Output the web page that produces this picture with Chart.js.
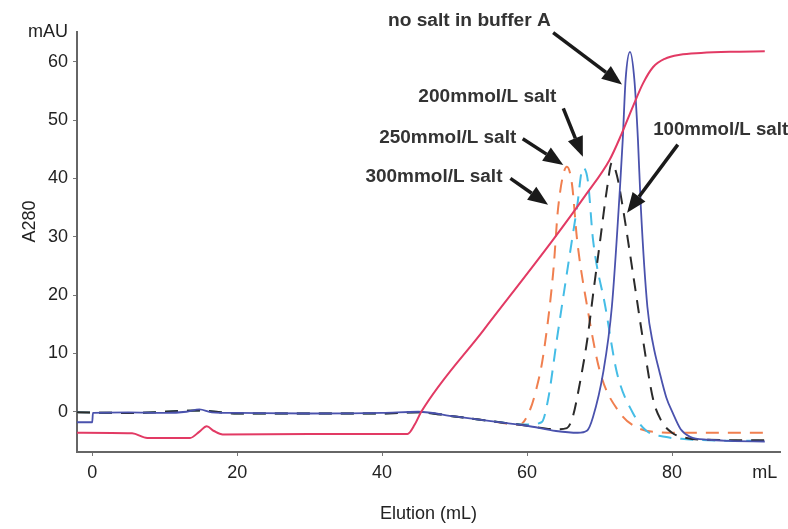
<!DOCTYPE html>
<html>
<head>
<meta charset="utf-8">
<script src="https://cdn.jsdelivr.net/npm/chart.js@4/dist/chart.umd.min.js"></script>
<style>
  html, body { margin: 0; padding: 0; background: #fff; }
  #wrap { width: 788px; height: 529px; position: relative; }
</style>
</head>
<body>
<div id="wrap"><canvas id="elutionChart"></canvas></div>
<script>
// salt gradient trace (red)
const gradientX = [-2.1, 5.5, 7.6, 13.5, 14.8, 15.8, 16.8, 18, 30, 43.5, 44.5, 45.4, 54, 63.6, 68, 71.4, 73, 74.6, 76, 77.4, 79, 81.1, 84, 88, 92.8];
const gradientY = [-3.6, -3.7, -4.5, -4.5, -3.4, -2.5, -3.3, -3.9, -3.8, -3.8, -2.2, 0, 14, 29.5, 37, 43.2, 47.5, 52.3, 56.3, 59.1, 60.5, 61.2, 61.5, 61.7, 61.8];

// no salt in buffer A (solid blue)
const noSaltX = [-2.1, 0, 0.1, 5, 10, 13, 14.8, 16.5, 20, 30, 40, 45, 50, 55, 60, 64, 67, 68.3, 69.1, 70.5, 71.7, 72.8, 73.2, 73.6, 74.2, 74.8, 75.3, 75.7, 76.6, 77.4, 78.3, 79.2, 80.1, 81.2, 82.5, 85, 88, 92.8];
const noSaltY = [-1.8, -1.8, -0.2, -0.1, -0.2, 0, 0.4, -0.1, -0.2, -0.3, -0.2, 0, -0.8, -1.6, -2.4, -3.3, -3.6, -3.2, -0.9, 6.7, 18, 38, 46.6, 57, 61.7, 57, 46.6, 35, 18, 11.5, 6.7, 2.5, -0.2, -3, -4.3, -4.8, -5, -5.1];

// 100 mmol/L salt (black dashed)
const salt100X = [-2.1, 5, 14.8, 20, 40, 45, 50, 55, 60, 64, 65.5, 66.3, 67.3, 68.3, 69.2, 70.1, 71, 71.7, 72.4, 73.2, 74.6, 76, 77.4, 78.5, 80, 82, 85, 92.8];
const salt100Y = [-0.1, -0.2, 0.2, -0.3, -0.3, -0.1, -0.8, -1.6, -2.4, -3, -2.8, -0.9, 5, 12.3, 21, 29.5, 38, 42.7, 40.5, 35.1, 23.8, 12.3, 2.1, -1.5, -3.6, -4.5, -4.8, -4.9];

// 200 mmol/L salt (cyan dashed)
const salt200X = [-2.1, 5, 14.8, 20, 40, 45, 50, 55, 60, 62, 62.9, 64.1, 65.5, 66.9, 67.7, 68.4, 69.1, 70.8, 72.4, 74.6, 76.5, 79, 82, 85, 92.8];
const salt200Y = [-0.1, -0.2, 0.2, -0.3, -0.3, -0.1, -0.8, -1.6, -2.2, -1.8, 2.1, 12.3, 23.8, 35.1, 41.8, 39.5, 29.5, 18, 6.7, -0.2, -3.3, -4.3, -4.7, -4.9, -5];

// 250 / 300 mmol/L salt (orange dashed)
const salt250X = [-2.1, 5, 14.8, 20, 40, 45, 50, 55, 59, 60.4, 61.3, 62.2, 63.6, 64.3, 65.5, 66.2, 66.9, 68.3, 70.1, 72.8, 75, 78, 82, 92.8];
const salt250Y = [-0.1, -0.2, 0.2, -0.3, -0.3, -0.1, -0.8, -1.6, -2.2, 0.3, 4, 9.4, 23.8, 35.1, 42, 39, 29.5, 18, 6.7, -0.2, -2.6, -3.5, -3.6, -3.6];

// axis ticks
const xTickValues = [0, 20, 40, 60, 80, 92.8];
const xTickLabels = ["0", "20", "40", "60", "80", "mL"];
const yTickValues = [0, 10, 20, 30, 40, 50, 60, 65.1];
const yTickLabels = ["0", "10", "20", "30", "40", "50", "60", "mAU"];

// callouts, placed in data units
const callouts = [
    { text: "no salt in buffer A", tx: 40.8, ty: 67, from: [63.6, 65], to: [73.1, 56.1], w: 163 },
    { text: "200mmol/L salt", tx: 45.0, ty: 54.0, from: [65.0, 52.0], to: [67.7, 43.7], w: 138 },
    { text: "250mmol/L salt", tx: 39.6, ty: 47.0, from: [59.4, 46.8], to: [65.0, 42.3], w: 137 },
    { text: "300mmol/L salt", tx: 37.7, ty: 40.3, from: [57.7, 40.0], to: [62.9, 35.5], w: 137 },
    { text: "100mmol/L salt", tx: 77.4, ty: 48.3, from: [80.8, 45.8], to: [73.8, 34.1], w: 135 },
];

const FONT = "'Liberation Sans Narrow', 'Liberation Sans', 'DejaVu Sans Condensed', sans-serif";

function toPoints(xs, ys) {
    return xs.map((x, i) => ({ x: x, y: ys[i] }));
}

function drawArrow(ctx, x0, y0, x1, y1) {
    const ang = Math.atan2(y1 - y0, x1 - x0);
    const headLen = 20;
    const headHalf = 8;
    const bx = x1 - headLen * Math.cos(ang);
    const by = y1 - headLen * Math.sin(ang);
    ctx.beginPath();
    ctx.moveTo(x0, y0);
    ctx.lineTo(bx, by);
    ctx.stroke();
    ctx.beginPath();
    ctx.moveTo(x1, y1);
    ctx.lineTo(bx + headHalf * Math.sin(ang), by - headHalf * Math.cos(ang));
    ctx.lineTo(bx - headHalf * Math.sin(ang), by + headHalf * Math.cos(ang));
    ctx.closePath();
    ctx.fill();
}

const calloutPlugin = {
    id: "callouts",
    afterDatasetsDraw(chart) {
        const { ctx, scales } = chart;
        const x = scales.x;
        const y = scales.y;
        ctx.save();
        ctx.fillStyle = "#1a1a1a";
        ctx.strokeStyle = "#1a1a1a";
        ctx.lineWidth = 3.5;
        ctx.font = "bold 18px " + FONT;
        ctx.textBaseline = "middle";
        callouts.forEach((c) => {
            const px = x.getPixelForValue(c.tx);
            const py = y.getPixelForValue(c.ty);
            const k = c.w / ctx.measureText(c.text).width;
            ctx.save();
            ctx.translate(px, py);
            ctx.scale(k, 1);
            ctx.fillStyle = "#333";
            ctx.fillText(c.text, 0, 0);
            ctx.restore();
            drawArrow(ctx,
                x.getPixelForValue(c.from[0]), y.getPixelForValue(c.from[1]),
                x.getPixelForValue(c.to[0]), y.getPixelForValue(c.to[1]));
        });

        // y axis title, sits a little above the middle of the axis like the original
        ctx.save();
        ctx.translate(30, y.getPixelForValue(32.6));
        ctx.rotate(-Math.PI / 2);
        ctx.font = "18px " + FONT;
        ctx.fillStyle = "#222";
        ctx.textAlign = "center";
        ctx.fillText("A280", 0, 0);
        ctx.restore();
        ctx.restore();
    },
};

const baseLine = {
    pointRadius: 0,
    fill: false,
    cubicInterpolationMode: "monotone",
};

new Chart(document.getElementById("elutionChart"), {
    type: "line",
    data: {
        datasets: [
            Object.assign({}, baseLine, {
                label: "salt gradient",
                data: toPoints(gradientX, gradientY),
                borderColor: "#e23a64",
                borderWidth: 2,
                order: 0,
            }),
            Object.assign({}, baseLine, {
                label: "no salt in buffer A",
                data: toPoints(noSaltX, noSaltY),
                borderColor: "#4a52ad",
                borderWidth: 1.8,
                order: 1,
            }),
            Object.assign({}, baseLine, {
                label: "100mmol/L salt",
                data: toPoints(salt100X, salt100Y),
                borderColor: "#2b2b2b",
                borderWidth: 2,
                borderDash: [13, 9],
                order: 2,
            }),
            Object.assign({}, baseLine, {
                label: "200mmol/L salt",
                data: toPoints(salt200X, salt200Y),
                borderColor: "#45bde6",
                borderWidth: 2,
                borderDash: [13, 9],
                order: 3,
            }),
            Object.assign({}, baseLine, {
                label: "250mmol/L salt",
                data: toPoints(salt250X, salt250Y),
                borderColor: "#f07f4f",
                borderWidth: 2,
                borderDash: [13, 9],
                order: 4,
            }),
        ],
    },
    options: {
        responsive: true,
        maintainAspectRatio: false,
        animation: false,
        layout: { padding: { top: 32, right: 8, left: 0, bottom: 0 } },
        plugins: {
            legend: { display: false },
            tooltip: { enabled: false },
        },
        scales: {
            x: {
                type: "linear",
                min: -2.1,
                max: 94.9,
                afterBuildTicks: (scale) => {
                    scale.ticks = xTickValues.map((v) => ({ value: v }));
                },
                afterFit: (scale) => {
                    scale.height = 77;
                },
                border: { color: "#666", width: 2 },
                grid: {
                    drawOnChartArea: false,
                    tickLength: 4,
                    color: (ctx) => (ctx.tick && ctx.tick.value === 92.8 ? "rgba(0,0,0,0)" : "#777"),
                },
                ticks: {
                    autoSkip: false,
                    maxRotation: 0,
                    padding: 6,
                    color: "#222",
                    font: { family: FONT, size: 18 },
                    callback: (value, index) => xTickLabels[index],
                },
                title: {
                    display: true,
                    text: "Elution (mL)",
                    color: "#222",
                    font: { family: FONT, size: 18 },
                    padding: { top: 0, bottom: 4 },
                },
            },
            y: {
                type: "linear",
                min: -6.9,
                max: 65.1,
                afterBuildTicks: (scale) => {
                    scale.ticks = yTickValues.map((v) => ({ value: v }));
                },
                afterFit: (scale) => {
                    scale.width = 77;
                },
                border: { color: "#666", width: 2 },
                grid: {
                    drawOnChartArea: false,
                    tickLength: 4,
                    color: (ctx) => (ctx.tick && ctx.tick.value === 65.1 ? "rgba(0,0,0,0)" : "#777"),
                },
                ticks: {
                    autoSkip: false,
                    padding: 5,
                    color: "#222",
                    font: { family: FONT, size: 18 },
                    callback: (value, index) => yTickLabels[index],
                },
            },
        },
    },
    plugins: [calloutPlugin],
});
</script>
</body>
</html>
